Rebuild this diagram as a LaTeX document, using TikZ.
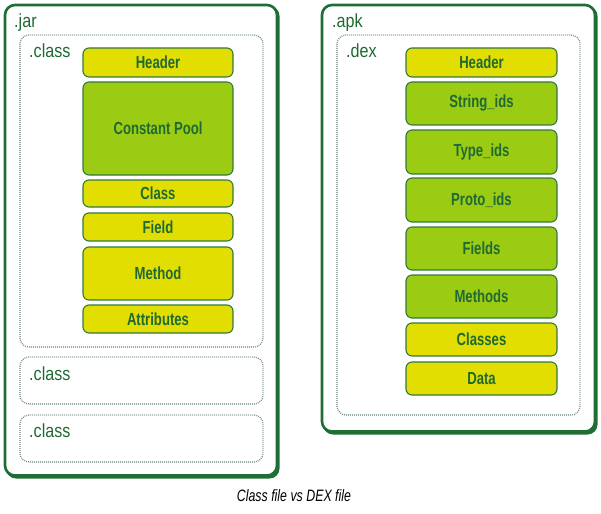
\documentclass[tikz,border=0pt]{standalone}
\usepackage{fontspec}
\setmainfont{Liberation Sans}[FakeStretch=0.85]
\newfontfamily\narrowfont{Liberation Sans}[FakeStretch=0.75]
\usepackage{tikz}

\definecolor{fileline}{HTML}{1E6E36}
\definecolor{boxline}{HTML}{2F7B3C}
\definecolor{dotline}{HTML}{6A8476}
\definecolor{yel}{HTML}{E2DE02}
\definecolor{grn}{HTML}{9CCB14}
\definecolor{txt}{HTML}{1F6A33}

\begin{document}
\begin{tikzpicture}[x=1pt,y=-1pt,
	filebox/.style={draw=fileline,line width=2.6pt,rounded corners=10pt},
	shadowbox/.style={fill=fileline,rounded corners=10pt},
	dotbox/.style={draw=dotline,line width=1.3pt,dash pattern=on 0.8pt off 1.2pt,rounded corners=9pt},
	field/.style={draw=boxline,line width=1.1pt,rounded corners=6pt,text=txt,
		font=\narrowfont\bfseries\fontsize{17.5}{19}\selectfont,inner sep=0pt},
	tag/.style={anchor=base west,text=txt,font=\fontsize{19}{21}\selectfont,inner sep=0pt}]
\useasboundingbox (0,0) rectangle (601,513);

% .jar side
\fill[shadowbox] (6,6) rectangle (279.5,478.5);
\fill[white,rounded corners=9pt] (5,5) rectangle (277,475.5);
\draw[filebox] (5,5) rectangle (277,475.5);
\node[tag] (jar) at (14,28) {.jar};
\draw[dotbox] (20,35) rectangle (263,347);
\draw[dotbox] (20,357) rectangle (263,404);
\draw[dotbox] (20,415) rectangle (263,462);
\node[tag] (cls1) at (29,58) {.class};
\node[tag] (cls2) at (29,380) {.class};
\node[tag] (cls3) at (29,437) {.class};
\foreach \n/\t/\y/\h/\c in {jhead/Header/62.5/29/yel,jpool/Constant Pool/128.5/93/grn,
	jclass/Class/193.5/27/yel,jfield/Field/227/28/yel,jmeth/Method/273.5/53/yel,
	jattr/Attributes/319/28/yel}
	\node[field,fill=\c,minimum width=150pt,minimum height=\h pt] (\n) at (158,\y) {\t};

% .apk side
\fill[shadowbox] (323,6) rectangle (597.5,434.5);
\fill[white,rounded corners=9pt] (322,5) rectangle (595,431.5);
\draw[filebox] (322,5) rectangle (595,431.5);
\node[tag] (apk) at (332,28) {.apk};
\draw[dotbox] (337,35) rectangle (580,415);
\node[tag] (dex) at (346,58) {.dex};
\foreach \n/\t/\y/\h/\c in {dhead/Header/62.5/29/yel,dstr/String\_ids/103.5/43/grn,
	dtype/Type\_ids/152/44/grn,dproto/Proto\_ids/200/44/grn,dfield/Fields/248.5/43/grn,
	dmeth/Methods/296.5/43/grn,dclass/Classes/339.5/33/yel,ddata/Data/378.5/33/yel}
	\node[field,fill=\c,minimum width=151pt,minimum height=\h pt] (\n) at (481.5,\y) {\t};

\node[font=\narrowfont\itshape\fontsize{16.5}{18}\selectfont] (cap) at (294,496) {Class file vs DEX file};
\end{tikzpicture}
\end{document}
